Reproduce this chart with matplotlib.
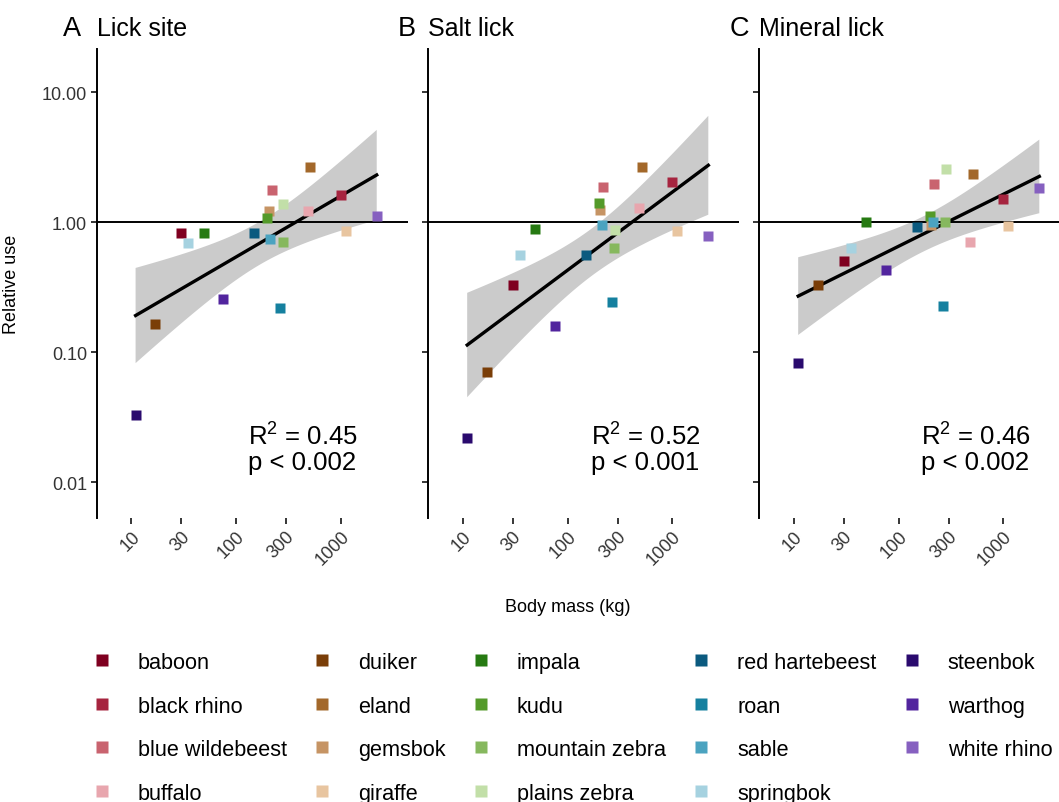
import numpy as np
import matplotlib
matplotlib.use("Agg")
import matplotlib.pyplot as plt
from matplotlib.lines import Line2D

plt.rcParams['font.family'] = ['Liberation Sans', 'DejaVu Sans']
plt.rcParams['mathtext.fontset'] = 'custom'
plt.rcParams['mathtext.rm'] = 'Liberation Sans'
plt.rcParams['mathtext.it'] = 'Liberation Sans'

species = ["baboon", "black rhino", "blue wildebeest", "buffalo",
           "duiker", "eland", "gemsbok", "giraffe",
           "impala", "kudu", "mountain zebra", "plains zebra",
           "red hartebeest", "roan", "sable", "springbok",
           "steenbok", "warthog", "white rhino"]
colors = ["#7F0020", "#A6243F", "#C9636F", "#E8A6AE",
          "#7A3E08", "#A3682A", "#C69464", "#E8C5A0",
          "#267A12", "#549A2A", "#86B85E", "#C2DFA8",
          "#0B5A7F", "#15809F", "#4BA3C0", "#A6D2E0",
          "#2A0A6E", "#52259E", "#8660C0"]
body_mass = [30, 1000, 219, 484, 17, 509, 205, 1117, 49, 200, 280, 282,
             150, 263, 212, 35, 11, 76, 2208]

lick_site = [0.83, 1.61, 1.77, 1.23, 0.165, 2.65, 1.23, 0.85, 0.83, 1.08,
             0.70, 1.38, 0.82, 0.218, 0.74, 0.69, 0.033, 0.257, 1.12]
salt_lick = [0.33, 2.03, 1.88, 1.29, 0.070, 2.68, 1.25, 0.85, 0.89, 1.41,
             0.63, 0.87, 0.56, 0.245, 0.95, 0.56, 0.022, 0.159, 0.79]
mineral_lick = [0.50, 1.50, 1.96, 0.71, 0.33, 2.37, 0.95, 0.94, 1.01, 1.12,
                1.00, 2.56, 0.92, 0.226, 1.00, 0.63, 0.083, 0.43, 1.85]

panel_tags = ["A", "B", "C"]
panel_titles = ["Lick site", "Salt lick", "Mineral lick"]
r2_values = ["0.45", "0.52", "0.46"]
p_labels = ["p < 0.002", "p < 0.001", "p < 0.002"]
x_ticks = [10, 30, 100, 300, 1000]
x_ticklabels = ["10", "30", "100", "300", "1000"]
y_ticks = [0.01, 0.1, 1, 10]
y_ticklabels = ["0.01", "0.10", "1.00", "10.00"]
T_CRIT = 2.110  # t(0.975, df=17)

W, H = 1059, 803
fig = plt.figure(figsize=(W / 100, H / 100), dpi=100)

ax_left_px = [96.7, 428.3, 759.3]
ax_w_px = 310.8
ax_top_px, ax_bot_px = 50, 519
tag_off = [-0.108, -0.097, -0.094]
ann_x = [0.487, 0.523, 0.521]

datasets = [lick_site, salt_lick, mineral_lick]
lx = np.log10(np.array(body_mass, dtype=float))

for i, yvals in enumerate(datasets):
    ax = fig.add_axes([ax_left_px[i] / W, 1 - ax_bot_px / H, ax_w_px / W,
                       (ax_bot_px - ax_top_px) / H])
    ax.set_xscale('log')
    ax.set_yscale('log')
    ax.set_xlim(10 ** 0.670, 10 ** 3.638)
    ax.set_ylim(10 ** -2.275, 10 ** 1.333)

    ly = np.log10(np.array(yvals, dtype=float))
    slope, icpt = np.polyfit(lx, ly, 1)
    n = len(lx)
    resid = ly - (slope * lx + icpt)
    s = np.sqrt(np.sum(resid ** 2) / (n - 2))
    sxx = np.sum((lx - lx.mean()) ** 2)
    xg = np.linspace(lx.min(), lx.max(), 200)
    yg = slope * xg + icpt
    se = s * np.sqrt(1 / n + (xg - lx.mean()) ** 2 / sxx)
    ax.fill_between(10 ** xg, 10 ** (yg - T_CRIT * se), 10 ** (yg + T_CRIT * se),
                    facecolor="#CBCBCB", edgecolor="none", zorder=1)
    ax.axhline(1, color="black", lw=1.4, zorder=2)
    ax.plot(10 ** xg, 10 ** yg, color="black", lw=2.4, zorder=3)
    for xm, yv, c in zip(body_mass, yvals, colors):
        ax.plot([xm], [yv], marker='s', ms=7.6, color=c, mec='none',
                ls='none', zorder=4)

    for sp in ['top', 'right', 'bottom']:
        ax.spines[sp].set_visible(False)
    ax.spines['left'].set_linewidth(1.4)
    ax.set_xticks(x_ticks)
    ax.set_xticklabels(x_ticklabels, rotation=45, ha='right', va='top',
                       rotation_mode='anchor', fontsize=13, color='#333333')
    ax.set_yticks(y_ticks)
    if i == 0:
        ax.set_yticklabels(y_ticklabels, fontsize=13, color='#333333')
    else:
        ax.set_yticklabels([])
    ax.minorticks_off()
    ax.tick_params(axis='both', length=4, width=1.1, color='black')
    ax.tick_params(axis='x', pad=3)
    ax.tick_params(axis='y', pad=3)

    ax.text(tag_off[i], 1.03, panel_tags[i], transform=ax.transAxes,
            fontsize=19.5, ha='left', va='baseline')
    ax.text(0.0, 1.03, panel_titles[i], transform=ax.transAxes,
            fontsize=18, ha='left', va='baseline')
    ax.text(ann_x[i], 0.175, "R$^2$ = " + r2_values[i], transform=ax.transAxes,
            fontsize=18.5, ha='left', va='center')
    ax.text(ann_x[i], 0.120, p_labels[i], transform=ax.transAxes,
            fontsize=18.5, ha='left', va='center')

    if i == 0:
        ax.set_ylabel("Relative use", fontsize=13)
        ax.yaxis.set_label_coords(-0.247, 0.5)

fig.text(568 / W, 1 - 608 / H, "Body mass (kg)", fontsize=13,
         ha='center', va='center')

handles = [Line2D([], [], marker='s', ls='none', ms=9, color=c, mec='none')
           for c in colors]
fig.legend(handles, species, loc='upper left', ncol=5, frameon=False,
           bbox_to_anchor=(91 / W, 1 - 653 / H), borderpad=0, borderaxespad=0,
           handlelength=1.0, handletextpad=1.16, columnspacing=1.13,
           labelspacing=1.04, fontsize=15.6)

fig.savefig("out.png", dpi=100)
